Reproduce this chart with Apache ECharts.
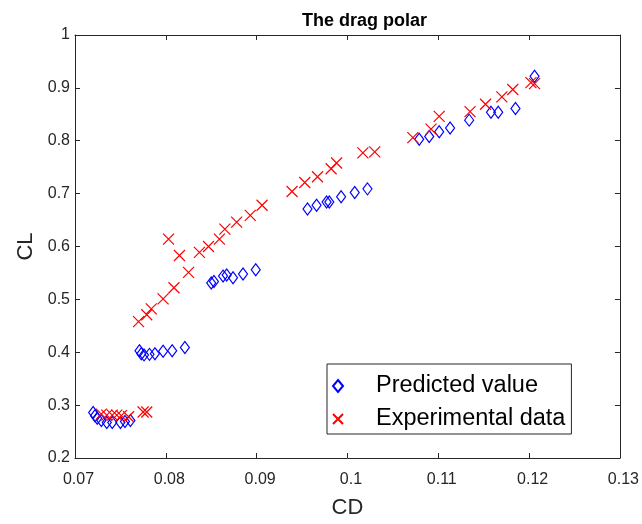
<!DOCTYPE html>
<html>
<head>
<meta charset="utf-8">
<script src="https://cdn.jsdelivr.net/npm/echarts@6/dist/echarts.min.js"></script>
<style>html,body{margin:0;padding:0;background:#fff}#c{width:642px;height:524px}</style>
</head>
<body>
<div id="c"></div>
<script>
// Predicted value (CD, CL)
const predictedCD = [0.0720,0.0722,0.07245,0.0729,0.0735,0.0741,0.0750,0.0755,0.0761,
  0.0771,0.0773,0.0776,0.0782,0.0788,0.0797,0.0807,0.0821,
  0.0850,0.0853,0.0863,0.0867,0.0874,0.0885,0.0899,
  0.0956,0.0966,0.0977,0.0980,0.0993,0.1008,0.1022,
  0.1079,0.1090,0.1101,0.1113,0.1134,0.1158,0.1166,0.1185,0.1206];
const predictedCL = [0.286,0.280,0.275,0.271,0.267,0.267,0.267,0.269,0.271,
  0.403,0.397,0.395,0.396,0.397,0.402,0.403,0.409,
  0.531,0.534,0.544,0.546,0.541,0.548,0.556,
  0.671,0.678,0.684,0.684,0.694,0.702,0.709,
  0.803,0.808,0.817,0.824,0.839,0.854,0.854,0.861,0.922];
// Experimental data (CD, CL)
const experimentalCD = [0.0729,0.0735,0.0741,0.0746,0.0751,0.0759,0.0775,0.0779,
  0.0770,0.0779,0.0784,0.0797,0.0809,0.0825,0.0815,0.0803,0.0837,0.0847,0.0859,0.0865,0.0878,0.0893,0.0906,
  0.0939,0.0953,0.0967,0.0982,0.0988,0.1017,0.1030,
  0.1072,0.1092,0.1101,0.1135,0.1152,0.1170,0.1182,0.1202,0.1206];
const experimentalCL = [0.283,0.281,0.281,0.281,0.280,0.278,0.287,0.287,
  0.458,0.471,0.482,0.501,0.522,0.551,0.583,0.614,0.589,0.600,0.614,0.633,0.646,0.659,0.678,
  0.704,0.721,0.732,0.747,0.758,0.777,0.779,
  0.806,0.822,0.846,0.855,0.869,0.883,0.897,0.910,0.908];
const xTickLabels = ['0.07','0.08','0.09','0.1','0.11','0.12','0.13'];
const yTickLabels = ['0.2','0.3','0.4','0.5','0.6','0.7','0.8','0.9','1'];
const seriesNames = ['Predicted value','Experimental data'];

const pairs = (xs, ys) => xs.map((x, i) => [x, ys[i]]);
const axisColor = '#262626';
const font = 'Liberation Sans, Arial, Helvetica, sans-serif';

const chart = echarts.init(document.getElementById('c'), null, {renderer: 'canvas'});
const xFmt = v => xTickLabels[Math.round((v - 0.07) / 0.01)] || '';
const yFmt = v => yTickLabels[Math.round((v - 0.2) / 0.1)] || '';

const baseX = {
  type: 'value', min: 0.07, max: 0.13, interval: 0.01,
  axisLine: {show: true, lineStyle: {color: axisColor, width: 1}},
  axisTick: {show: true, inside: true, length: 5, lineStyle: {color: axisColor}},
  splitLine: {show: false}
};
const baseY = {
  type: 'value', min: 0.2, max: 1, interval: 0.1,
  axisLine: {show: true, lineStyle: {color: axisColor, width: 1}},
  axisTick: {show: true, inside: true, length: 5, lineStyle: {color: axisColor}},
  splitLine: {show: false}
};

chart.setOption({
  backgroundColor: '#ffffff',
  animation: false,
  title: {
    text: 'The drag polar', left: 297, top: 7,
    textStyle: {fontFamily: font, fontSize: 18, fontWeight: 'bold', color: '#000'}
  },
  grid: {left: 75, right: 21, top: 35, bottom: 62},
  xAxis: [
    Object.assign({}, baseX, {
      position: 'bottom',
      axisLabel: {formatter: xFmt, fontFamily: font, fontSize: 16, color: axisColor, margin: 14, padding: [0, 0, 0, 7]},
      name: 'CD', nameLocation: 'middle', nameGap: 39,
      nameTextStyle: {fontFamily: font, fontSize: 22, color: axisColor}
    }),
    Object.assign({}, baseX, {position: 'top', axisLabel: {show: false}})
  ],
  yAxis: [
    Object.assign({}, baseY, {
      position: 'left',
      axisLabel: {formatter: yFmt, fontFamily: font, fontSize: 16, color: axisColor, margin: 5},
      name: 'CL', nameLocation: 'middle', nameGap: 38,
      nameTextStyle: {fontFamily: font, fontSize: 22, color: axisColor}
    }),
    Object.assign({}, baseY, {position: 'right', axisLabel: {show: false}})
  ],
  legend: {
    left: 327, top: 364, orient: 'vertical',
    padding: [10, 6, 3, 5],
    itemWidth: 10, itemHeight: 12, itemGap: 9,
    borderColor: axisColor, borderWidth: 1, backgroundColor: '#fff',
    textStyle: {fontFamily: font, fontSize: 23.5, color: '#000', padding: [0, 0, 0, 28]},
    data: [
      {name: seriesNames[0], icon: 'diamond'},
      {name: seriesNames[1], icon: 'path://M0,0L1,1M1,0L0,1'}
    ]
  },
  series: [
    {
      name: seriesNames[0], type: 'scatter', xAxisIndex: 0, yAxisIndex: 0,
      symbol: 'diamond', symbolSize: [9, 12],
      itemStyle: {color: 'rgba(0,0,0,0)', borderColor: '#0000ff', borderWidth: 1.2, opacity: 1},
      data: pairs(predictedCD, predictedCL)
    },
    {
      name: seriesNames[1], type: 'scatter', xAxisIndex: 0, yAxisIndex: 0,
      symbol: 'path://M0,0L1,1M1,0L0,1', symbolSize: 11,
      itemStyle: {color: 'rgba(0,0,0,0)', borderColor: '#ff0000', borderWidth: 1.2, opacity: 1},
      data: pairs(experimentalCD, experimentalCL)
    }
  ]
});
</script>
</body>
</html>
